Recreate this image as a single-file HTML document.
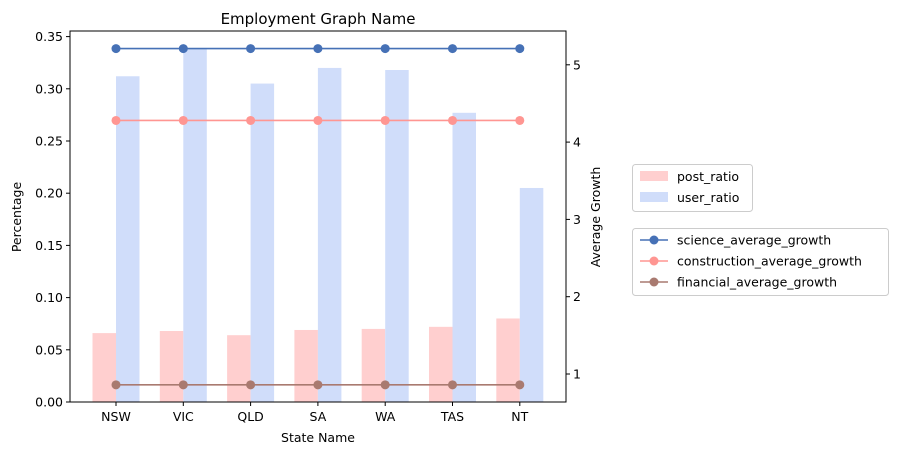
<!DOCTYPE html>
<html><head><meta charset="utf-8"><style>
body{margin:0;background:#fff;font-family:"Liberation Sans","DejaVu Sans",sans-serif;}
svg text{font-family:"DejaVu Sans","Liberation Sans",sans-serif;}
</style></head><body>
<svg id="chart" width="898" height="455" xmlns="http://www.w3.org/2000/svg"></svg>
<script>
const categories=["NSW","VIC","QLD","SA","WA","TAS","NT"];
const postRatio=[0.066,0.068,0.064,0.069,0.070,0.072,0.080];
const userRatio=[0.312,0.338,0.305,0.320,0.318,0.277,0.205];
const scienceGrowth=[5.21,5.21,5.21,5.21,5.21,5.21,5.21];
const constructionGrowth=[4.28,4.28,4.28,4.28,4.28,4.28,4.28];
const financialGrowth=[0.86,0.86,0.86,0.86,0.86,0.86,0.86];
const leftTicks=[0,0.05,0.10,0.15,0.20,0.25,0.30,0.35];
const rightTicks=[1,2,3,4,5];

const NS="http://www.w3.org/2000/svg";
const svg=document.getElementById('chart');
const L=70,R=566,T=31,B=402;
const yL=v=>B-v/0.05*52.2;
const yR=v=>374-(v-1)*77.3;
const step=67.3, x0=116;
const xC=i=>x0+i*step;
function mk(tag,attrs,parent){const e=document.createElementNS(NS,tag);for(const k in attrs)e.setAttribute(k,attrs[k]);(parent||svg).appendChild(e);return e;}
function txt(s,attrs){const e=mk('text',Object.assign({'font-size':12.5,fill:'#000'},attrs));e.textContent=s;return e;}

const gBars=mk('g',{});


categories.forEach((c,i)=>{
  const w=23.5;
  const b1=mk('rect',{x:xC(i)-w,y:yL(postRatio[i]),width:w,height:B-yL(postRatio[i]),fill:'#ffcfcf'},gBars);
  
  
  const b2=mk('rect',{x:xC(i),y:yL(userRatio[i]),width:w,height:B-yL(userRatio[i]),fill:'#d0ddfa'},gBars);
  
  
});
function line(vals,color,name){
  const g=mk('g',{});
  
  
  mk('polyline',{points:vals.map((v,i)=>xC(i)+','+yR(v)).join(' '),fill:'none',stroke:color,'stroke-width':1.6},g);
  vals.forEach((v,i)=>{const p=mk('circle',{cx:xC(i),cy:yR(v),r:4.5,fill:color},g);
    
    });
}
line(scienceGrowth,'#4671b6','science-line');
line(constructionGrowth,'#ff9692','construction-line');
line(financialGrowth,'#a97a70','financial-line');

const frame=mk('rect',{x:L,y:T,width:R-L,height:B-T,fill:'none',stroke:'#000','stroke-width':1});


leftTicks.forEach(v=>{const y=yL(v);mk('line',{x1:L-4,x2:L,y1:y,y2:y,stroke:'#000'});
  const t=txt(v.toFixed(2),{x:L-7,y:y+4.5,'text-anchor':'end'});
  
  });
rightTicks.forEach(v=>{const y=yR(v);mk('line',{x1:R,x2:R+4,y1:y,y2:y,stroke:'#000'});
  const t=txt(String(v),{x:R+7,y:y+4.5});
  
  });
categories.forEach((c,i)=>{mk('line',{x1:xC(i),x2:xC(i),y1:B,y2:B+4,stroke:'#000'});
  const t=txt(c,{x:xC(i),y:B+19,'text-anchor':'middle'});
  
  });

let t=txt('Employment Graph Name',{x:318,y:24,'text-anchor':'middle','font-size':15});

t=txt('State Name',{x:318,y:442,'text-anchor':'middle'});

t=txt('Percentage',{x:21,y:217,'text-anchor':'middle',transform:'rotate(-90 21 217)'});

t=txt('Average Growth',{x:600,y:217,'text-anchor':'middle',transform:'rotate(-90 600 217)'});


const lg1=mk('g',{});

mk('rect',{x:632.5,y:164.5,width:120,height:47,rx:3,fill:'#fff',stroke:'#ccc'},lg1);
mk('rect',{x:640,y:171,width:28,height:10,fill:'#ffcfcf'},lg1);
mk('rect',{x:640,y:192,width:28,height:10,fill:'#d0ddfa'},lg1);
let e=txt('post_ratio',{x:677,y:181});lg1.appendChild(e);
e=txt('user_ratio',{x:677,y:202});lg1.appendChild(e);

const lg2=mk('g',{});

mk('rect',{x:632.5,y:228.5,width:256,height:67,rx:3,fill:'#fff',stroke:'#ccc'},lg2);
[['science_average_growth','#4671b6'],['construction_average_growth','#ff9692'],['financial_average_growth','#a97a70']].forEach((d,i)=>{
  const y=240+i*21;
  mk('line',{x1:640,x2:668,y1:y,y2:y,stroke:d[1],'stroke-width':1.6},lg2);
  mk('circle',{cx:654,cy:y,r:4.5,fill:d[1]},lg2);
  const tt=txt(d[0],{x:677,y:y+4.5});lg2.appendChild(tt);
});
</script>
</body></html>
